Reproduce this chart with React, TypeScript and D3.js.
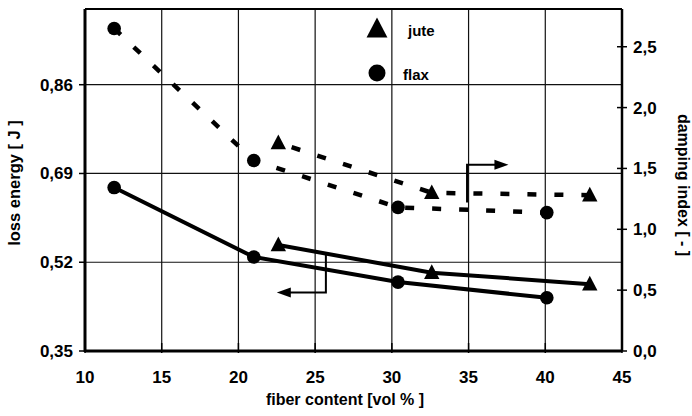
import React from "react";
import * as d3 from "d3";

const xTicks = [10, 15, 20, 25, 30, 35, 40, 45];
const leftTicks = [0.35, 0.52, 0.69, 0.86];
const rightTicks = [0, 0.5, 1.0, 1.5, 2.0, 2.5];

// loss energy [J] (left axis, solid lines)
const flaxLossX = [11.9, 21, 30.4, 40.1];
const flaxLossY = [0.663, 0.53, 0.482, 0.452];
const juteLossX = [22.6, 32.6, 42.9];
const juteLossY = [0.553, 0.5, 0.478];

// damping index [-] (right axis, dashed lines)
const flaxDampX = [11.9, 21, 30.4, 40.1];
const flaxDampY = [2.65, 1.565, 1.18, 1.137];
const juteDampX = [22.6, 32.6, 42.9];
const juteDampY = [1.71, 1.3, 1.28];

const W = 692;
const H = 416;
const L = 85, R = 622, T = 9, B = 351;
const FONT = "'Liberation Sans', Arial, sans-serif";

export default function App() {
  const x = d3.scaleLinear().domain([10, 45]).range([L, R]);
  const yL = d3.scaleLinear().domain([0.35, 1.005]).range([B, T]);
  const yR = d3.scaleLinear().domain([0, 2.81]).range([B, T]);

  const lineL = d3.line<[number, number]>().x(d => x(d[0])).y(d => yL(d[1]));
  const lineR = d3.line<[number, number]>().x(d => x(d[0])).y(d => yR(d[1]));

  const zip = (a: number[], b: number[]) => a.map((v, i) => [v, b[i]] as [number, number]);
  const flaxLoss = zip(flaxLossX, flaxLossY);
  const juteLoss = zip(juteLossX, juteLossY);
  const flaxDamp = zip(flaxDampX, flaxDampY);
  const juteDamp = zip(juteDampX, juteDampY);

  const tri = (cx: number, cy: number, s: number) =>
    `M${cx},${cy - s * 0.6} L${cx + s * 0.55},${cy + s * 0.45} L${cx - s * 0.55},${cy + s * 0.45} Z`;

  const gridX = xTicks.filter(v => v > 10 && v < 45);
  const gridY = leftTicks.filter(v => v > 0.35);

  // annotation arrows
  const a1x = x(34.9), a1y0 = yR(1.22), a1y1 = yR(1.53), a1x1 = x(37.6);
  const a2x = x(25.7), a2y0 = yL(0.535), a2y1 = yL(0.462), a2x1 = x(22.5);

  const fmt = (v: number, d: number) => v.toFixed(d).replace(".", ",");

  return (
    <svg width={W} height={H} style={{ position: "absolute", left: 0, top: 0, background: "#fff" }} fontFamily={FONT} fontWeight="bold">
      <rect x={0} y={0} width={W} height={H} fill="#fff" />
      {/* grid */}
      {gridX.map(v => (
        <line key={"gx" + v} x1={x(v)} x2={x(v)} y1={T} y2={B} stroke="#111" strokeWidth={1.2} />
      ))}
      {gridY.map(v => (
        <line key={"gy" + v} x1={L} x2={R} y1={yL(v)} y2={yL(v)} stroke="#111" strokeWidth={1.2} />
      ))}
      {/* frame */}
      <line x1={L} x2={R} y1={T} y2={T} stroke="#000" strokeWidth={2} />
      <line x1={R} x2={R} y1={T} y2={B} stroke="#000" strokeWidth={2.5} />
      <line x1={L} x2={L} y1={T} y2={B + 1} stroke="#000" strokeWidth={3} />
      <line x1={L} x2={R} y1={B} y2={B} stroke="#000" strokeWidth={3} />

      {/* x ticks */}
      {xTicks.map(v => (
        <g key={"xt" + v}>
          <line x1={x(v)} x2={x(v)} y1={B - 8} y2={B + 2} stroke="#000" strokeWidth={1.5} />
          <text x={x(v)} y={383} textAnchor="middle" fontSize={17}>{v}</text>
        </g>
      ))}
      {/* left ticks */}
      {leftTicks.map(v => (
        <g key={"lt" + v}>
          <line x1={L - 6} x2={L} y1={yL(v)} y2={yL(v)} stroke="#000" strokeWidth={1.5} />
          <text x={73} y={yL(v) + 6} textAnchor="end" fontSize={17}>{fmt(v, 2)}</text>
        </g>
      ))}
      {/* right ticks */}
      {rightTicks.map(v => (
        <g key={"rt" + v}>
          <line x1={R - 5} x2={R + 5} y1={yR(v)} y2={yR(v)} stroke="#000" strokeWidth={1.5} />
          <text x={633} y={yR(v) + 6} textAnchor="start" fontSize={17}>{fmt(v, 1)}</text>
        </g>
      ))}

      {/* axis titles */}
      <text x={345} y={405} textAnchor="middle" fontSize={16}>fiber content [vol % ]</text>
      <text transform={`translate(20,${183}) rotate(-90)`} textAnchor="middle" fontSize={16.5}>loss energy [ J ]</text>
      <text transform={`translate(678,${185}) rotate(90)`} textAnchor="middle" fontSize={16}>damping index [ - ]</text>

      {/* lines */}
      <path d={lineL(flaxLoss) || ""} fill="none" stroke="#000" strokeWidth={4} strokeLinejoin="round" />
      <path d={lineL(juteLoss) || ""} fill="none" stroke="#000" strokeWidth={4} strokeLinejoin="round" />
      <path d={lineR(flaxDamp) || ""} fill="none" stroke="#000" strokeWidth={4.5} strokeDasharray="9 18" />
      <path d={lineR(juteDamp) || ""} fill="none" stroke="#000" strokeWidth={4.5} strokeDasharray="9 18" strokeDashoffset={-14} />

      {/* markers */}
      {flaxLoss.map((d, i) => <circle key={"fl" + i} cx={x(d[0])} cy={yL(d[1])} r={6.8} fill="#000" />)}
      {flaxDamp.map((d, i) => <circle key={"fd" + i} cx={x(d[0])} cy={yR(d[1])} r={6.8} fill="#000" />)}
      {juteLoss.map((d, i) => <path key={"jl" + i} d={tri(x(d[0]), yL(d[1]), 14)} fill="#000" />)}
      {juteDamp.map((d, i) => <path key={"jd" + i} d={tri(x(d[0]), yR(d[1]), 14)} fill="#000" />)}

      {/* annotation arrows */}
      <path d={`M${a1x},${a1y0} L${a1x},${a1y1} L${a1x1 - 10},${a1y1}`} fill="none" stroke="#000" strokeWidth={2} />
      <path d={`M${a1x1},${a1y1} L${a1x1 - 14},${a1y1 - 5} L${a1x1 - 14},${a1y1 + 5} Z`} fill="#000" />
      <path d={`M${a2x},${a2y0} L${a2x},${a2y1} L${a2x1 + 10},${a2y1}`} fill="none" stroke="#000" strokeWidth={2} />
      <path d={`M${a2x1},${a2y1} L${a2x1 + 14},${a2y1 - 5} L${a2x1 + 14},${a2y1 + 5} Z`} fill="#000" />

      {/* legend */}
      <path d={tri(377, 29, 19)} fill="#000" />
      <text x={408} y={36} fontSize={15}>jute</text>
      <circle cx={377} cy={73} r={8.5} fill="#000" />
      <text x={403} y={80} fontSize={15}>flax</text>
    </svg>
  );
}
